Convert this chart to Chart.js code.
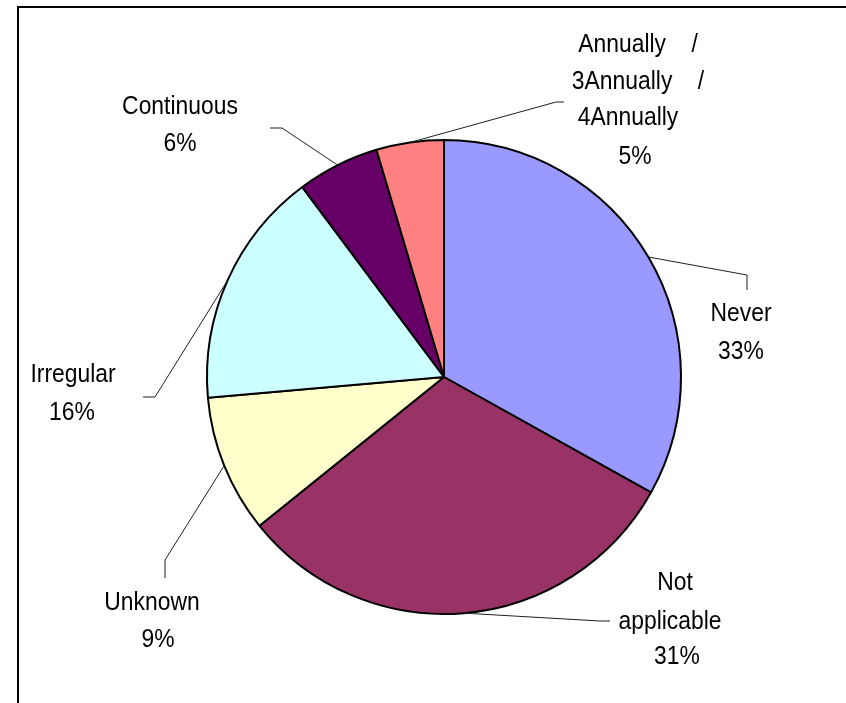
<!DOCTYPE html>
<html>
<head>
<meta charset="utf-8">
<script src="https://cdn.jsdelivr.net/npm/chart.js@4/dist/chart.umd.min.js"></script>
<style>
  html, body { margin: 0; padding: 0; background: #ffffff; }
  #wrap { width: 846px; height: 703px; }
</style>
</head>
<body>
<div id="wrap"><canvas id="c" width="846" height="703"></canvas></div>
<script>
// ---- data ----
const categories = ["Never", "Not applicable", "Unknown", "Irregular", "Continuous", "Annually / 3Annually / 4Annually"];
const values = [33.1, 31.1, 9.4, 16.2, 5.6, 4.6];
const labelLines = [
  ["Never"],
  ["Not", "applicable"],
  ["Unknown"],
  ["Irregular"],
  ["Continuous"],
  ["Annually    /", "3Annually    /", "4Annually"]
];
const sliceColors = ["#9999FF", "#993366", "#FFFFCC", "#CCFFFF", "#660066", "#FF8080"];

// label layout (text anchors and leader-line elbows)
const labelLayout = [
  { elbow: [747, 275], end: [747, 290], lines: [[741, 314], [741, 352]] },
  { elbow: [600, 621], end: [610, 621], lines: [[675, 583], [670, 622], [677, 657]] },
  { elbow: [165, 560], end: [165, 578], lines: [[152, 603], [158, 640]] },
  { elbow: [155, 397], end: [143, 397], lines: [[73, 375], [72, 413]] },
  { elbow: [282, 128], end: [270, 128], lines: [[180, 107], [180, 144]] },
  { elbow: [556, 102], end: [564, 102], lines: [[638, 45], [638, 82], [628, 118], [635, 157]] }
];

const total = values.reduce((a, b) => a + b, 0);

const framePlugin = {
  id: 'frame',
  beforeDraw(chart) {
    const ctx = chart.ctx;
    ctx.save();
    ctx.fillStyle = '#ffffff';
    ctx.fillRect(0, 0, chart.width, chart.height);
    ctx.strokeStyle = '#000000';
    ctx.lineWidth = 2;
    ctx.strokeRect(18, 7, 1000, 1000);
    ctx.restore();
  }
};

const labelPlugin = {
  id: 'pieLabels',
  afterDatasetsDraw(chart) {
    const ctx = chart.ctx;
    const meta = chart.getDatasetMeta(0);
    ctx.save();
    meta.data.forEach((arc, i) => {
      const p = arc.getProps(['x', 'y', 'startAngle', 'endAngle', 'outerRadius'], true);
      const mid = (p.startAngle + p.endAngle) / 2;
      const sx = p.x + Math.cos(mid) * p.outerRadius;
      const sy = p.y + Math.sin(mid) * p.outerRadius;
      const L = labelLayout[i];
      ctx.strokeStyle = '#202020';
      ctx.lineWidth = 1;
      ctx.beginPath();
      ctx.moveTo(sx, sy);
      ctx.lineTo(L.elbow[0], L.elbow[1]);
      ctx.lineTo(L.end[0], L.end[1]);
      ctx.stroke();

      const pct = Math.round(values[i] / total * 100) + '%';
      const texts = labelLines[i].concat([pct]);
      ctx.fillStyle = '#000000';
      ctx.font = '26px "Liberation Sans", Arial, sans-serif';
      ctx.textAlign = 'center';
      ctx.textBaseline = 'middle';
      texts.forEach((t, k) => {
        const pos = L.lines[k];
        ctx.save();
        ctx.translate(pos[0], pos[1]);
        ctx.scale(0.88, 1);
        ctx.fillText(t, 0, 0);
        ctx.restore();
      });
    });
    ctx.restore();
  }
};

new Chart(document.getElementById('c'), {
  type: 'pie',
  data: {
    labels: categories,
    datasets: [{
      data: values,
      backgroundColor: sliceColors,
      borderColor: '#000000',
      borderWidth: 2,
      borderAlign: 'center'
    }]
  },
  options: {
    responsive: false,
    animation: false,
    layout: { padding: { left: 206, right: 164, top: 139, bottom: 88 } },
    plugins: {
      legend: { display: false },
      tooltip: { enabled: false }
    }
  },
  plugins: [framePlugin, labelPlugin]
});
</script>
</body>
</html>
